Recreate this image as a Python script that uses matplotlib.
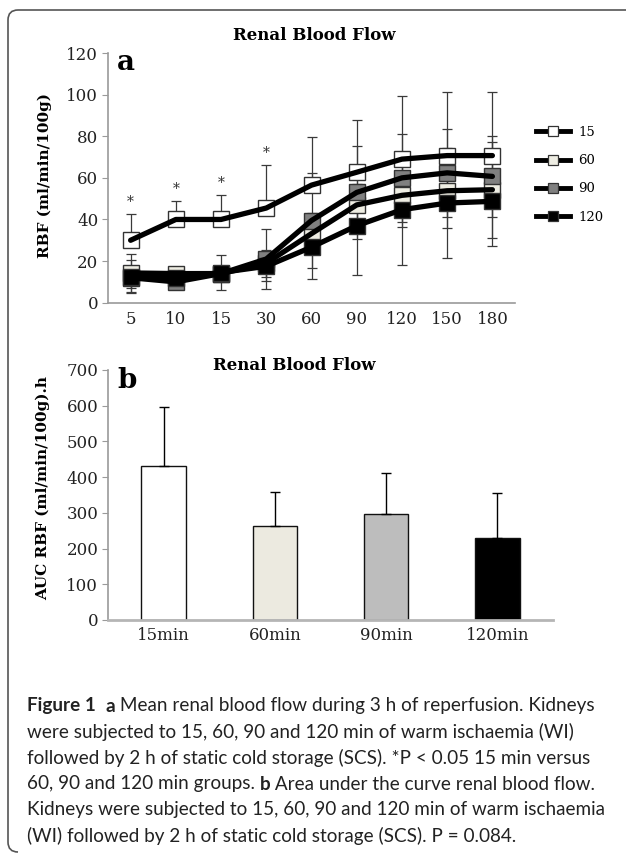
import matplotlib
matplotlib.use('Agg')
import matplotlib.pyplot as plt
from matplotlib.lines import Line2D
from matplotlib.path import Path
from matplotlib.patches import PathPatch
import numpy as np

# ---------------- data ----------------
times = ['5', '10', '15', '30', '60', '90', '120', '150', '180']
groups = ['15', '60', '90', '120']
rbf_15 = [30, 40, 40, 45.5, 56.5, 62.7, 69, 70.7, 70.7]
rbf_60 = [14.3, 14, 14, 19, 33.2, 47, 51.6, 53.8, 54.3]
rbf_90 = [12, 10, 14, 21, 39.5, 53, 60, 62.4, 60.7]
rbf_120 = [12.5, 12, 14.5, 17.5, 26.7, 37, 44.7, 47.9, 48.7]
err_15 = [12.4, 8.7, 11.6, 20.5, 23, 25.3, 30.5, 30.5, 30.5]
err_60 = [9, 3, 3, 6.5, 10, 10, 15.3, 18, 23]
err_90 = [5, 3, 3, 14.5, 23, 22.5, 21, 21.2, 19.6]
err_120 = [8, 3, 8.5, 7, 15.4, 23.7, 26.5, 26.5, 21.4]
sig_times = ['5', '10', '15', '30']

auc_groups = ['15min', '60min', '90min', '120min']
auc = [431, 263, 297, 231]
auc_err = [164, 94, 114, 124]

colors = ['#ffffff', '#eeede3', '#808080', '#000000']
bar_colors = ['#ffffff', '#eceae0', '#bdbdbd', '#000000']

W, H = 626, 856
fig = plt.figure(figsize=(W / 100, H / 100), dpi=100)
serif = 'DejaVu Serif'
axis_gray = '#9a9a9a'

def fx(px):
    return px / W

def fy(py):
    return 1 - py / H

# ---------------- border ----------------
r = 10
verts = [(W + 5, 10), (8 + r, 10), (8, 10), (8, 10 + r), (8, H - 4 - r), (8, H - 4), (8 + r, H - 4), (W + 5, H - 4)]
codes = [Path.MOVETO, Path.LINETO, Path.CURVE3, Path.CURVE3, Path.LINETO, Path.CURVE3, Path.CURVE3, Path.MOVETO]
vp = [(fx(x), fy(y)) for x, y in verts]
fig.patches.append(PathPatch(Path(vp, codes), transform=fig.transFigure, fill=False,
                             edgecolor='#555555', lw=1.2))

# ---------------- panel a ----------------
axa = fig.add_axes([fx(108), fy(302.7), fx(515) - fx(108), fy(53) - fy(302.7)])
x = np.arange(len(times))
series = [rbf_15, rbf_60, rbf_90, rbf_120]
errs = [err_15, err_60, err_90, err_120]
for i, (s, e) in enumerate(zip(series, errs)):
    s = np.array(s); e = np.array(e)
    if i == 0:
        yerr = [np.zeros_like(e), e]
    else:
        yerr = e
    axa.errorbar(x, s, yerr=yerr, fmt='none', ecolor='#3a3a3a', elinewidth=0.9,
                 capsize=3.5, capthick=0.9, zorder=2)
for i, s in enumerate(series):
    axa.plot(x, s, ls='none', marker='s', ms=11, mfc=colors[i], mec='#333333',
             mew=1.0, zorder=3 + i * 0.01)
for i, s in enumerate(series):
    axa.plot(x, s, color='black', lw=3.8, solid_capstyle='round', zorder=4)

for t in sig_times:
    k = times.index(t)
    axa.text(k, rbf_15[k] + err_15[k] + 2.5, '*', ha='center', va='bottom',
             fontsize=10, family=serif, color='#333333')

axa.set_xlim(-0.5, len(times) - 0.5)
axa.set_ylim(0, 120)
axa.set_yticks(range(0, 121, 20))
axa.set_xticks(x)
axa.set_xticklabels(times)
for sp in ['top', 'right']:
    axa.spines[sp].set_visible(False)
for sp in ['left', 'bottom']:
    axa.spines[sp].set_color(axis_gray)
    axa.spines[sp].set_linewidth(1.2)
axa.tick_params(axis='y', direction='out', length=4, color=axis_gray, labelsize=12, pad=3)
axa.tick_params(axis='x', length=0, labelsize=12, pad=6)
for lab in axa.get_xticklabels() + axa.get_yticklabels():
    lab.set_family(serif)
    lab.set_color('#222222')

handles = [Line2D([0], [0], color='black', lw=3.5, marker='s', ms=7, mfc=colors[i],
                  mec='#333333', mew=0.9) for i in range(4)]
leg = axa.legend(handles, groups, loc='upper left', bbox_to_anchor=(fx(536), fy(126)),
                 bbox_transform=fig.transFigure, frameon=False, handlelength=2.6,
                 handletextpad=0.6, labelspacing=1.15, borderpad=0, borderaxespad=0,
                 prop={'family': serif, 'size': 9.5})

fig.text(fx(314), fy(36), 'Renal Blood Flow', ha='center', va='center', family=serif,
         fontweight='bold', fontsize=12)
fig.text(fx(117), fy(62), 'a', ha='left', va='center', family=serif, fontweight='bold', fontsize=20)
fig.text(fx(45), fy(175), 'RBF (ml/min/100g)', ha='center', va='center', rotation=90,
         family=serif, fontweight='bold', fontsize=11)

# ---------------- panel b ----------------
axb = fig.add_axes([fx(108), fy(620), fx(553) - fx(108), fy(370) - fy(620)])
xb = np.arange(len(auc_groups))
axb.bar(xb, auc, width=0.4, color=bar_colors, edgecolor='#111111', linewidth=1.0, zorder=2)
axb.errorbar(xb, auc, yerr=[np.zeros(len(auc)), auc_err], fmt='none', ecolor='black',
             elinewidth=1.0, capsize=3.5, capthick=1.0, zorder=3)
axb.set_xlim(-0.5, len(auc_groups) - 0.5)
axb.set_ylim(0, 700)
axb.set_yticks(range(0, 701, 100))
axb.set_xticks(xb)
axb.set_xticklabels(auc_groups)
for sp in ['top', 'right']:
    axb.spines[sp].set_visible(False)
axb.spines['left'].set_color(axis_gray)
axb.spines['left'].set_linewidth(1.2)
axb.spines['bottom'].set_color('#b5b5b5')
axb.spines['bottom'].set_linewidth(2.0)
axb.tick_params(axis='y', direction='out', length=4, color=axis_gray, labelsize=12, pad=3)
axb.tick_params(axis='x', length=0, labelsize=12, pad=5)
for lab in axb.get_xticklabels() + axb.get_yticklabels():
    lab.set_family(serif)
    lab.set_color('#222222')

fig.text(fx(294), fy(366), 'Renal Blood Flow', ha='center', va='center', family=serif,
         fontweight='bold', fontsize=12)
fig.text(fx(117), fy(380), 'b', ha='left', va='center', family=serif, fontweight='bold', fontsize=20)
fig.text(fx(43), fy(488), 'AUC RBF (ml/min/100g).h', ha='center', va='center', rotation=90,
         family=serif, fontweight='bold', fontsize=11)

# ---------------- caption ----------------
cap_font = 'Lato'
cap_size = 13.6
caption_lines = [
    [('Figure 1', True), ('  ', False), ('a', True), (' Mean renal blood flow during 3 h of reperfusion. Kidneys', False)],
    [('were subjected to 15, 60, 90 and 120 min of warm ischaemia (WI)', False)],
    [('followed by 2 h of static cold storage (SCS). *P < 0.05 15 min versus', False)],
    [('60, 90 and 120 min groups. ', False), ('b', True), (' Area under the curve renal blood flow.', False)],
    [('Kidneys were subjected to 15, 60, 90 and 120 min of warm ischaemia', False)],
    [('(WI) followed by 2 h of static cold storage (SCS). P = 0.084.', False)],
]
line_y = [706, 732, 758, 784, 810, 836]
fig.canvas.draw()
renderer = fig.canvas.get_renderer()
for segs, yy in zip(caption_lines, line_y):
    xpos = 27
    for txt, bold in segs:
        t = fig.text(fx(xpos), fy(yy), txt, ha='left', va='center', family=cap_font,
                     fontweight='bold' if bold else 'normal', fontsize=cap_size, color='#222222')
        bb = t.get_window_extent(renderer=renderer)
        xpos += bb.width

fig.savefig('out.png', dpi=100)
